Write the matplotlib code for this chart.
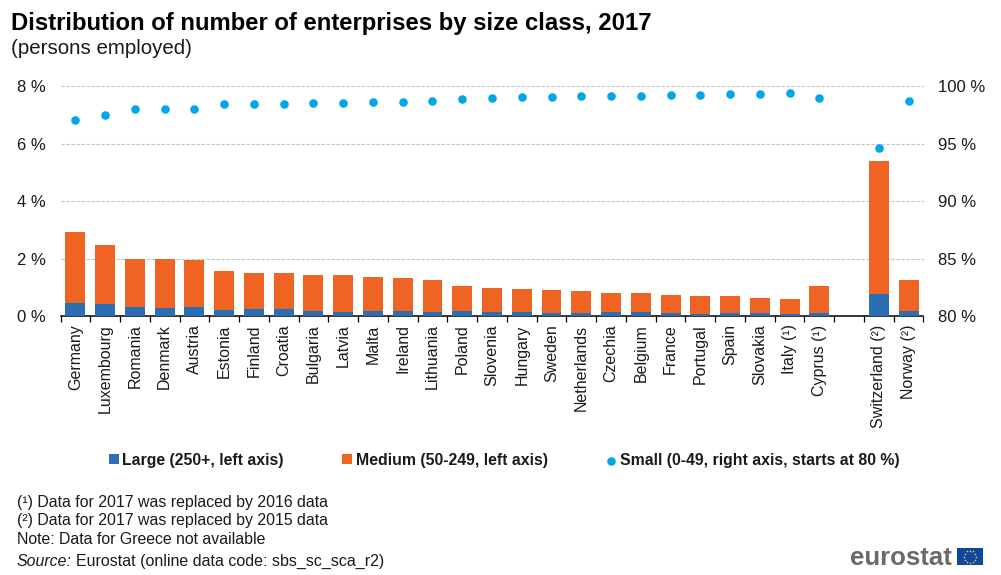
import matplotlib
matplotlib.use("Agg")
import matplotlib.pyplot as plt
import numpy as np
from matplotlib.patches import Rectangle

plt.rcParams['font.family'] = ['Liberation Sans', 'DejaVu Sans']

countries = ["Germany","Luxembourg","Romania","Denmark","Austria","Estonia","Finland","Croatia",
             "Bulgaria","Latvia","Malta","Ireland","Lithuania","Poland","Slovenia","Hungary",
             "Sweden","Netherlands","Czechia","Belgium","France","Portugal","Spain","Slovakia",
             "Italy (¹)","Cyprus (¹)","","Switzerland (²)","Norway (²)"]
large = [0.45,0.42,0.31,0.28,0.31,0.21,0.24,0.24,0.17,0.14,0.17,0.17,0.14,0.17,0.14,0.14,
         0.105,0.105,0.14,0.14,0.105,0.07,0.105,0.105,0.07,0.105,np.nan,0.77,0.17]
total = [2.93,2.47,1.99,1.99,1.95,1.57,1.50,1.50,1.43,1.43,1.36,1.32,1.25,1.05,0.97,0.94,
         0.905,0.87,0.80,0.80,0.73,0.70,0.70,0.63,0.59,1.05,np.nan,5.40,1.25]
small = [97.07,97.5,98.03,98.03,98.03,98.46,98.46,98.46,98.55,98.55,98.64,98.64,98.72,98.9,
         98.98,99.07,99.07,99.16,99.16,99.16,99.25,99.25,99.33,99.33,99.42,98.98,np.nan,94.63,98.72]
left_ticks = [0,2,4,6,8]
right_ticks = [80,85,90,95,100]

BLUE, ORANGE, CYAN = "#2A6EB4", "#F06423", "#00A6E6"
TXT = "#1a1a1a"
W, H = 1001, 575
fig = plt.figure(figsize=(W/100, H/100), dpi=100)
ax = fig.add_axes([60.5/W, 1-316/H, 863/W, 229.7/H])
x = np.arange(len(countries))
large = np.array(large); total = np.array(total); medium = total - large

b1 = ax.bar(x, large, width=0.67, color=BLUE, label="Large (250+, left axis)", zorder=3)
b2 = ax.bar(x, medium, bottom=large, width=0.67, color=ORANGE, label="Medium (50-249, left axis)", zorder=3)
ax.set_xlim(-0.5, len(x)-0.5)
ax.set_ylim(0, 8)
ax.set_yticks(left_ticks, [f"{v} %" for v in left_ticks], fontsize=12, color=TXT)
ax.tick_params(axis='y', length=0, pad=10.5)
ax.grid(axis='y', color="#c4c4c4", lw=0.8, ls=(0, (3, 1.5)), zorder=0)
ax.set_axisbelow(True)
for s in ["top", "left", "right"]:
    ax.spines[s].set_visible(False)
ax.spines["bottom"].set_linewidth(1.1)
ax.spines["bottom"].set_color("black")
ax.set_xticks(x, countries, rotation=90, fontsize=11.5, color=TXT, ha='center', va='top')
ax.tick_params(axis='x', which='major', length=0, pad=6.1)
ax.set_xticks(np.arange(-0.5, len(x)), minor=True)
ax.tick_params(axis='x', which='minor', length=4, width=0.9, color="black")

ax2 = ax.twinx()
ax2.set_ylim(80, 100)
ax2.set_yticks(right_ticks, [f"{v} %" for v in right_ticks], fontsize=12, color=TXT)
ax2.tick_params(axis='y', length=0, pad=10.5)
for s in ["top", "left", "right", "bottom"]:
    ax2.spines[s].set_visible(False)
dots = ax2.scatter(x, small, s=38, color=CYAN, linewidths=0, zorder=4,
                   label="Small (0-49, right axis, starts at 80 %)")

leg = fig.legend(handles=[b1, b2, dots], loc="center left", bbox_to_anchor=(109/W, 1-460/H),
                 ncols=3, frameon=False, prop={'weight': 'bold', 'size': 11.4}, handlelength=0.62,
                 handleheight=0.62, handletextpad=0.23, columnspacing=3.69, borderpad=0, borderaxespad=0)
for t in leg.get_texts():
    t.set_color(TXT)

def T(px, py, s, **kw):
    kw.setdefault('color', TXT)
    return fig.text(px/W, 1-py/H, s, va='baseline', ha=kw.pop('ha', 'left'), **kw)

T(11, 30, "Distribution of number of enterprises by size class, 2017", fontsize=17.2, weight='bold', color='black')
T(11, 54, "(persons employed)", fontsize=14.8)
T(17, 507, "(¹) Data for 2017 was replaced by 2016 data", fontsize=11.4)
T(17, 525, "(²) Data for 2017 was replaced by 2015 data", fontsize=11.4)
T(17, 544, "Note: Data for Greece not available", fontsize=11.4)
T(17, 566, "Source:", fontsize=11.4, style='italic')
T(76.5, 566, "Eurostat (online data code: sbs_sc_sca_r2)", fontsize=11.5)

# logo
T(850, 565, "eurostat", fontsize=18.5, weight='bold', color="#6a6a6a")
fig.add_artist(Rectangle((957/W, 1-565/H), 26/W, 17/H, transform=fig.transFigure, color="#0E47A1", lw=0))
ang = np.arange(12)*np.pi/6
fig.add_artist(plt.Line2D((970+6*np.cos(ang))/W, 1-(556.5+6*np.sin(ang))/H, ls='none', marker='o', ms=1.2,
                          color="#E8C820", mew=0, transform=fig.transFigure))
fig.savefig("out.png", dpi=100)
